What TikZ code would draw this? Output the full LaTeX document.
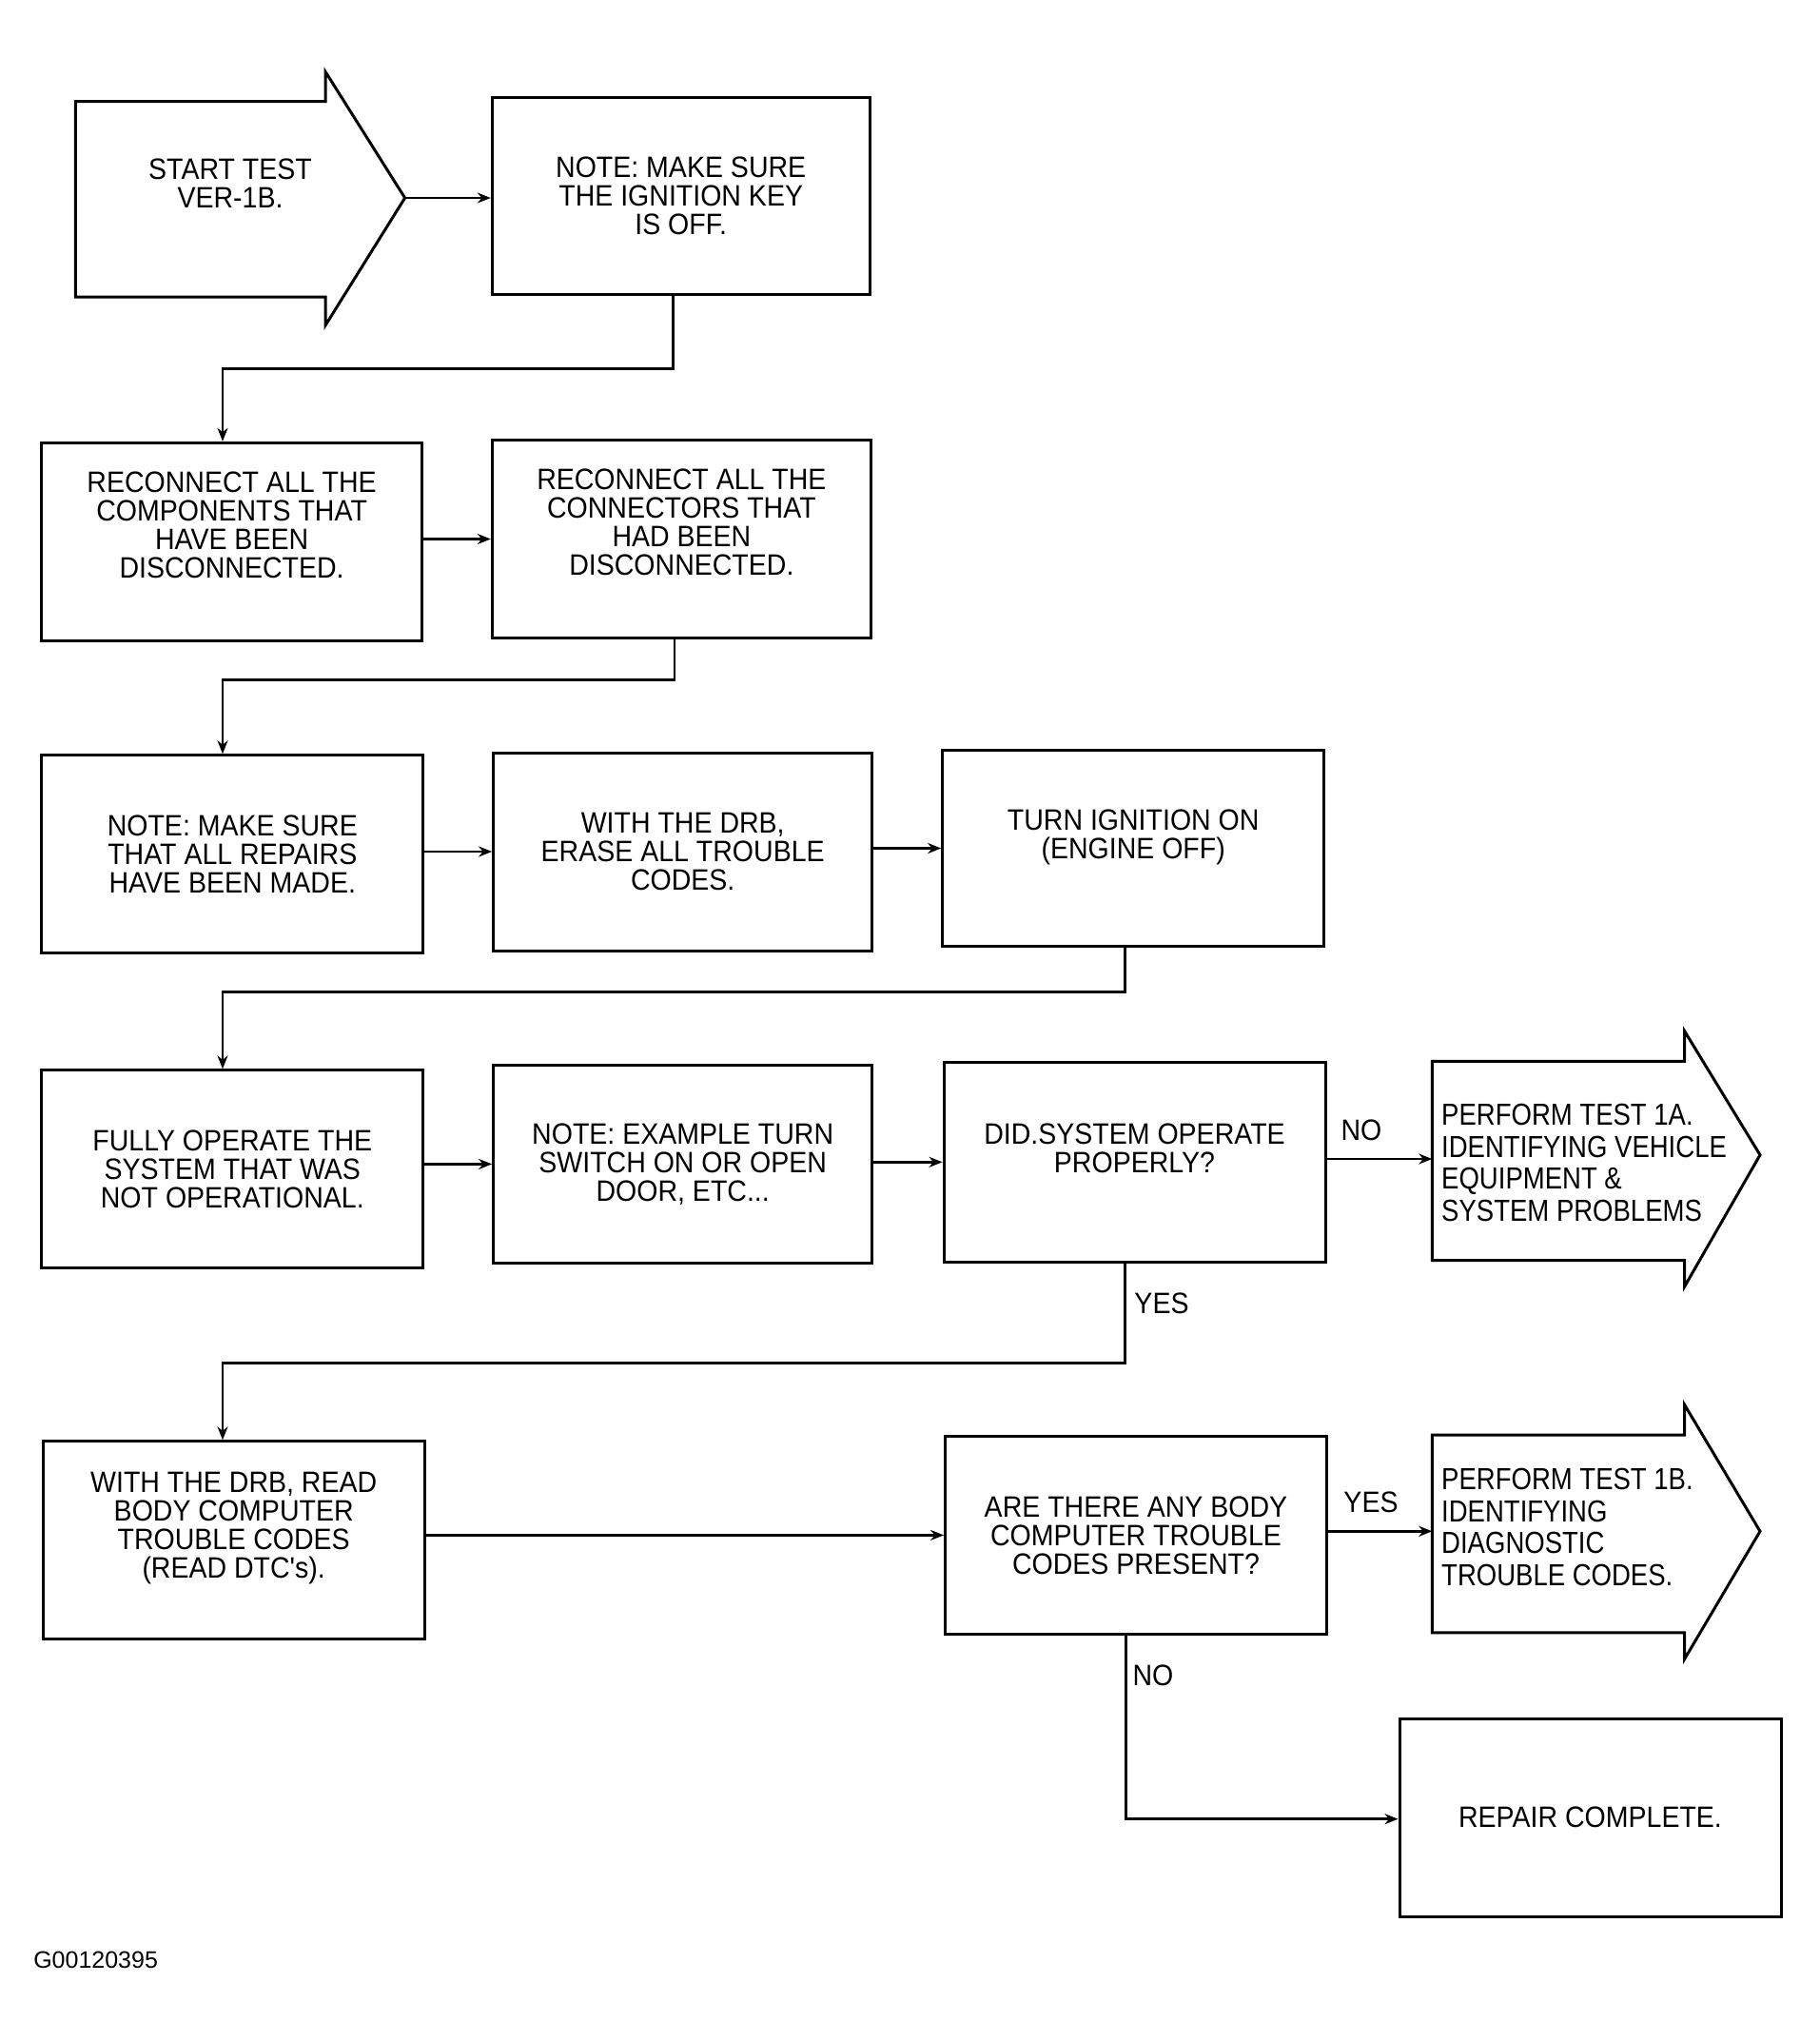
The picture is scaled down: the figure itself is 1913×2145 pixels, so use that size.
\documentclass[tikz,border=0pt]{standalone}
\usepackage{fontspec}
\setmainfont{Liberation Sans}
\newfontfamily\plotfont{Liberation Sans}[FakeStretch=0.92]
\newfontfamily\narrowfont{Liberation Sans}[FakeStretch=0.86]
\usetikzlibrary{arrows.meta}
\begin{document}
\begin{tikzpicture}[x=1pt,y=-1pt,
  box/.style={draw, line width=3pt, inner sep=0pt, align=center,
    font=\plotfont\fontsize{31}{30}\selectfont},
  arr/.style={line width=2.6pt, -{Stealth[length=14pt,width=11pt]}},
  conn/.style={line width=2.6pt},
  shapeline/.style={draw, line width=3pt, line join=miter},
  lbl/.style={font=\plotfont\fontsize{31}{30}\selectfont, inner sep=0pt},
  ptext/.style={font=\narrowfont\fontsize{32}{33.5}\selectfont, align=left, inner sep=0pt, anchor=north west}
]
\useasboundingbox[fill=white] (0,0) rectangle (1913,2145);

% start arrow
\draw[shapeline] (79.4,106.7) -- (342,106.7) -- (342,75.3) -- (425.6,208) -- (342,342) -- (342,312) -- (79.4,312) -- cycle;
\node[lbl, align=center] (starttxt) at (242,193) {START TEST\\VER-1B.};
\coordinate (starttip) at (425.6,208);

% boxes
\node[box, minimum width=396.8pt, minimum height=206.7pt] (b1) at (715.7,206) {NOTE: MAKE SURE\\THE IGNITION KEY\\IS OFF.};
\node[box, minimum width=399.6pt, minimum height=208pt] (bA) at (243.6,569.3) {RECONNECT ALL THE\\COMPONENTS THAT\\HAVE BEEN\\DISCONNECTED.\\[6pt]};
\node[box, minimum width=398.2pt, minimum height=208pt] (bB) at (716.4,566.5) {RECONNECT ALL THE\\CONNECTORS THAT\\HAD BEEN\\DISCONNECTED.\\[6pt]};
\node[box, minimum width=400.9pt, minimum height=208pt] (bC) at (244.3,897.7) {NOTE: MAKE SURE\\THAT ALL REPAIRS\\HAVE BEEN MADE.};
\node[box, minimum width=398.2pt, minimum height=208pt] (bD) at (717.7,895) {WITH THE DRB,\\ERASE ALL TROUBLE\\CODES.};
\node[box, minimum width=401pt, minimum height=206.6pt] (bE) at (1191.2,891.5) {TURN IGNITION ON\\(ENGINE OFF)\\};
\node[box, minimum width=400.9pt, minimum height=208pt] (bF) at (244.3,1228.8) {FULLY OPERATE THE\\SYSTEM THAT WAS\\NOT OPERATIONAL.};
\node[box, minimum width=398.2pt, minimum height=208pt] (bG) at (717.7,1223.4) {NOTE: EXAMPLE TURN\\SWITCH ON OR OPEN\\DOOR, ETC...};
\node[box, minimum width=401pt, minimum height=209.4pt] (bH) at (1192.5,1221.3) {DID.SYSTEM OPERATE\\PROPERLY?\\};
\node[box, minimum width=400.9pt, minimum height=208pt] (bJ) at (245.7,1618.8) {WITH THE DRB, READ\\BODY COMPUTER\\TROUBLE CODES\\(READ DTC's).\\[2pt]};
\node[box, minimum width=401pt, minimum height=208pt] (bK) at (1194,1613.4) {ARE THERE ANY BODY\\COMPUTER TROUBLE\\CODES PRESENT?};
\node[box, minimum width=401pt, minimum height=208pt] (bM) at (1671.5,1910.3) {REPAIR COMPLETE.};

% perform arrows
\draw[shapeline] (1505.3,1115.3) -- (1770.7,1115.3) -- (1770.7,1083.8) -- (1850,1213.8) -- (1770.7,1352) -- (1770.7,1324.6) -- (1505.3,1324.6) -- cycle;
\coordinate (Iin) at (1505.3,1218);
\node[ptext] (ptA) at (1515,1160) {PERFORM TEST 1A.\\IDENTIFYING VEHICLE\\EQUIPMENT \&\\SYSTEM PROBLEMS};
\draw[shapeline] (1505.3,1508) -- (1770.7,1508) -- (1770.7,1476.5) -- (1850,1609.3) -- (1770.7,1743.4) -- (1770.7,1715.9) -- (1505.3,1715.9) -- cycle;
\coordinate (Lin) at (1505.3,1609.3);
\node[ptext] (ptB) at (1515,1543) {PERFORM TEST 1B.\\IDENTIFYING\\DIAGNOSTIC\\TROUBLE CODES.};

% horizontal arrows
\draw[arr] (starttip) -- (starttip -| b1.west);
\draw[arr] (bA.east |- bB.west) -- (bB.west);
\draw[arr] (bC.east |- bD.west) -- (bD.west);
\draw[arr] (bD.east |- bE.west) -- (bE.west);
\draw[arr] (bF.east |- bG.west) -- (bG.west);
\draw[arr] (bG.east |- bH.west) -- (bH.west);
\draw[arr] (bH.east |- Iin) -- (Iin);
\draw[arr] (bJ.east |- bK.west) -- (bK.west);
\draw[arr] (bK.east |- Lin) -- (Lin);

% bent connectors
\coordinate (c1a) at (707.5,387.3); \coordinate (c1b) at (234,387.3);
\draw[arr] (b1.south -| c1a) -- (c1a) -- (c1b) -- (bA.north -| c1b);
\coordinate (c2a) at (708.8,714.3); \coordinate (c2b) at (234,714.3);
\draw[arr] (bB.south -| c2a) -- (c2a) -- (c2b) -- (bC.north -| c2b);
\coordinate (c3a) at (1182.3,1042.7); \coordinate (c3b) at (234,1042.7);
\draw[arr] (bE.south -| c3a) -- (c3a) -- (c3b) -- (bF.north -| c3b);
\coordinate (c4a) at (1182.3,1432.7); \coordinate (c4b) at (234,1432.7);
\draw[arr] (bH.south -| c4a) -- (c4a) -- (c4b) -- (bJ.north -| c4b);
\coordinate (c5a) at (1183.6,1911.7);
\draw[arr] (bK.south -| c5a) -- (c5a) -- (c5a -| bM.west);

% labels
\node[lbl] (noA) at (1431,1188) {NO};
\node[lbl] (yesA) at (1221,1370) {YES};
\node[lbl] (yesB) at (1441,1579) {YES};
\node[lbl] (noB) at (1212,1761) {NO};
\node[font=\fontsize{25}{25}\selectfont, inner sep=0pt] (code) at (100.6,2059.4) {G00120395};
\end{tikzpicture}
\end{document}
